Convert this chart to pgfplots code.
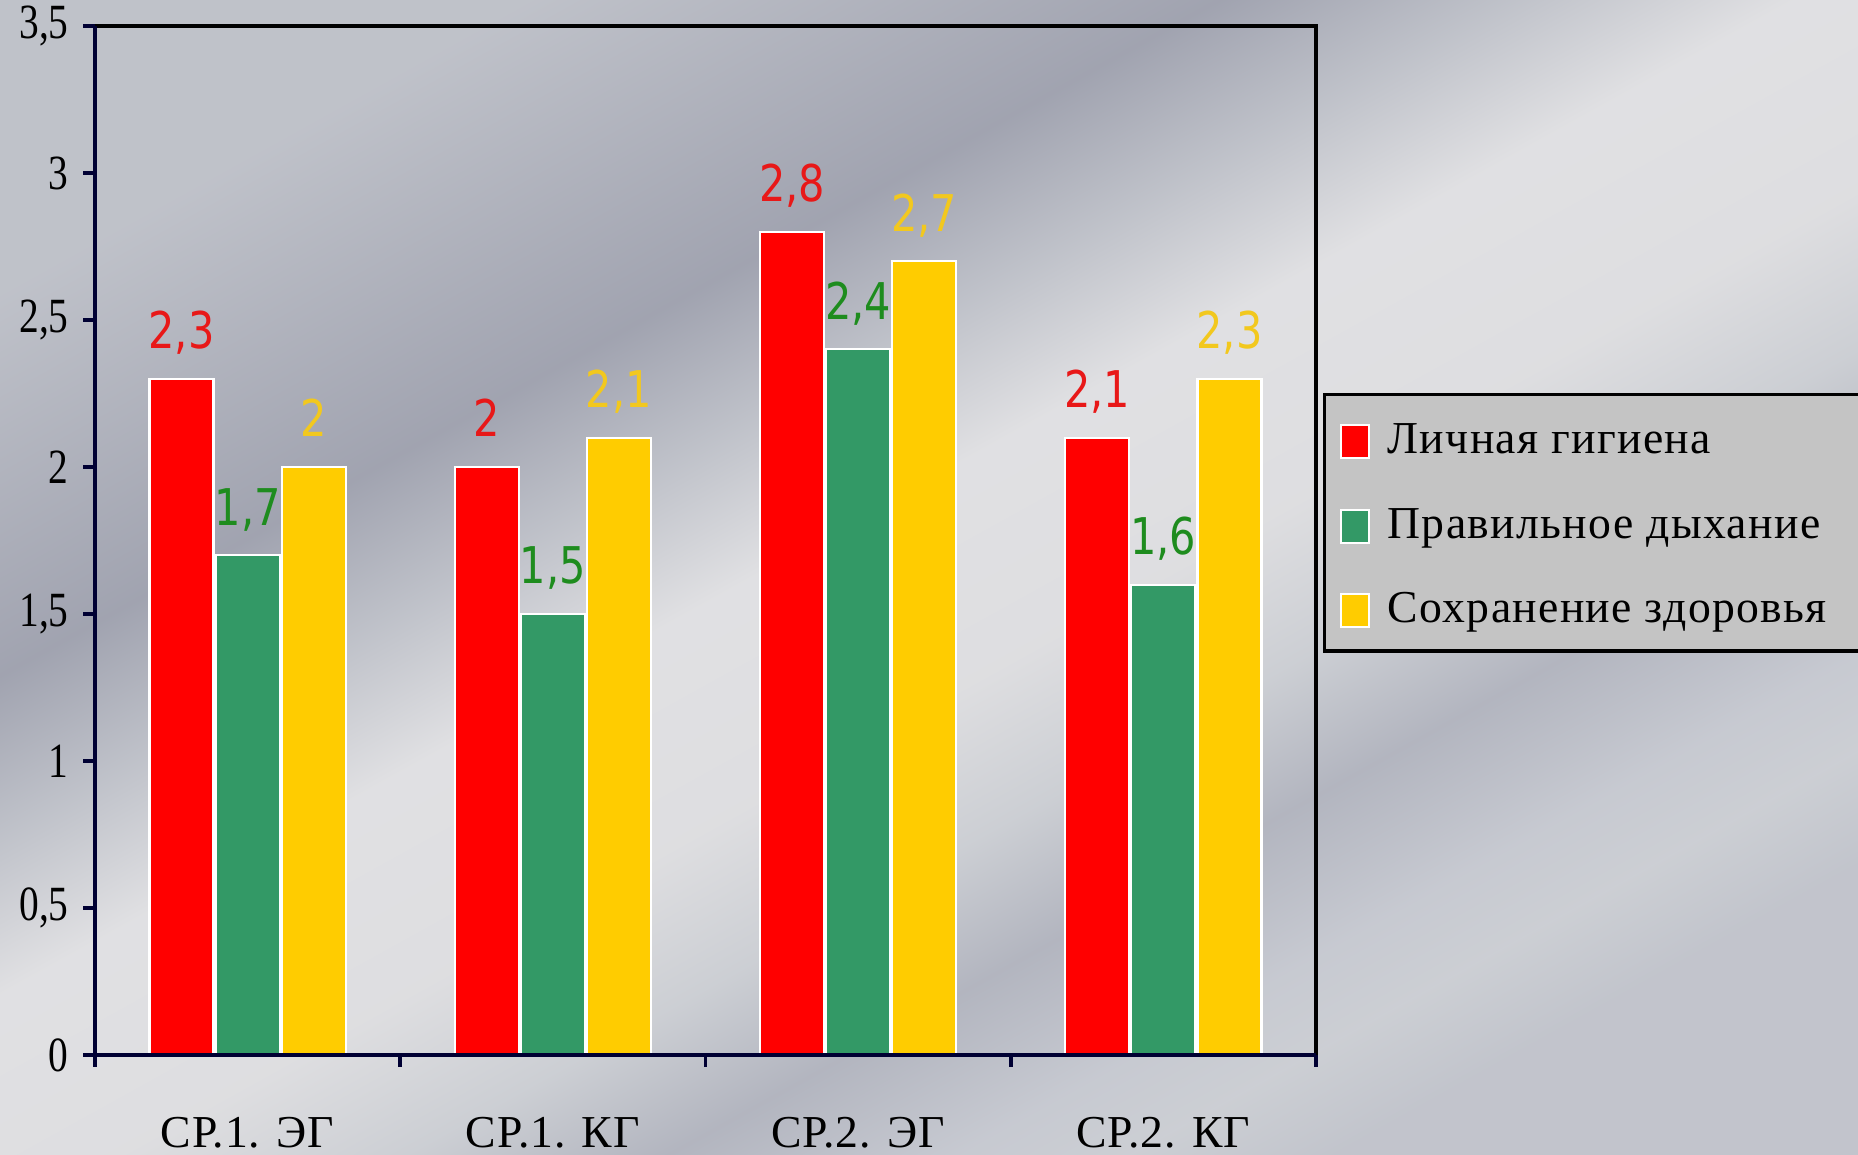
\documentclass[border=0pt]{standalone}
\usepackage{fontspec}
\setmainfont{Liberation Serif}
\newfontfamily\lab[FakeStretch=0.82]{DejaVu Sans}
\newfontfamily\legfont[LetterSpace=3]{Liberation Serif}
\newfontfamily\tickfont[FakeStretch=0.8]{Liberation Serif}
\newfontfamily\catfont[LetterSpace=2]{Liberation Serif}
\usepackage{pgfplots}
\pgfplotsset{compat=1.18}
\definecolor{cred}{HTML}{FF0000}
\definecolor{cgreen}{HTML}{339966}
\definecolor{cyellow}{HTML}{FFCC00}
\definecolor{tred}{HTML}{E81818}
\definecolor{tgreen}{HTML}{1E8C1E}
\definecolor{tyellow}{HTML}{F2C81E}
\definecolor{navy}{HTML}{000033}
\definecolor{lgray}{HTML}{C4C4C4}
\pgfdeclarehorizontalshading{metal}{100bp}{
rgb(0bp)=(0.75,0.76,0.79);
rgb(25bp)=(0.75,0.76,0.79);
rgb(31bp)=(0.69,0.70,0.74);
rgb(37bp)=(0.63,0.64,0.69);
rgb(42bp)=(0.75,0.76,0.79);
rgb(47bp)=(0.88,0.88,0.89);
rgb(54bp)=(0.87,0.87,0.88);
rgb(59bp)=(0.80,0.81,0.83);
rgb(63.5bp)=(0.70,0.71,0.75);
rgb(68.5bp)=(0.78,0.79,0.82);
rgb(71.5bp)=(0.80,0.81,0.83);
rgb(75bp)=(0.76,0.77,0.80);
rgb(100bp)=(0.76,0.77,0.80)}
\begin{document}
\begin{tikzpicture}
\useasboundingbox (0,0) rectangle (18.58,11.55);
\clip (0,0) rectangle (18.58,11.55);
\shade[shading=metal, shading angle=-61] (0,0) rectangle (18.58,11.55);
\begin{axis}[
  at={(0.95cm,1.0cm)}, anchor=south west,
  scale only axis, width=12.21cm, height=10.29cm,
  xmin=-0.5, xmax=3.5, ymin=0, ymax=3.5,
  clip=false,
  ybar=0.6pt, bar width=0.64cm,
  axis line style={draw=none},
  /pgf/number format/use comma,
  /pgf/number format/assume math mode=true,
  tick align=outside,
  xtick pos=bottom, ytick pos=left,
  major tick length=0.12cm,
  xtick={0,1,2,3},
  xticklabels={СР.1. ЭГ, СР.1. КГ, СР.2. ЭГ, СР.2. КГ},
  xtick style={draw=none},
  extra x ticks={-0.5,0.5,1.5,2.5,3.5},
  extra x tick labels={},
  extra x tick style={xtick style={draw=navy, line width=1pt}},
  ytick={0,0.5,1,1.5,2,2.5,3,3.5},
  ytick style={draw=navy, line width=1pt},
  yticklabel style={font=\tickfont\fontsize{14}{16}\selectfont, xshift=-0.02cm},
  xticklabel style={font=\catfont\fontsize{13}{15}\selectfont, yshift=-0.38cm},
  nodes near coords={\pgfmathprintnumber{\pgfplotspointmeta}},
  every node near coord/.append style={font=\lab\fontsize{14.4}{16}\selectfont, anchor=base, yshift=0.3cm},
  legend style={at={(1.0057,0.643)}, anchor=north west, fill=lgray, draw=black, line width=0.9pt,
    font=\legfont\fontsize{13}{15}\selectfont, row sep=0.375cm, column sep=0.18cm,
    inner xsep=0.15cm, inner ysep=0.2cm,
    nodes={inner sep=0pt, text height=0.39cm, text depth=0.08cm}},
  legend cell align=left,
  legend image code/.code={\draw[#1, draw=white, line width=0.6pt] (0cm,-0.2cm) rectangle (0.28cm,0.13cm);},
]
\addplot[fill=cred, draw=white, line width=0.6pt, every node near coord/.append style={text=tred}]
  coordinates {(0,2.3) (1,2.0) (2,2.8) (3,2.1)};
\addplot[fill=cgreen, draw=white, line width=0.6pt, every node near coord/.append style={text=tgreen}]
  coordinates {(0,1.7) (1,1.5) (2,2.4) (3,1.6)};
\addplot[fill=cyellow, draw=white, line width=0.6pt, every node near coord/.append style={text=tyellow}]
  coordinates {(0,2.0) (1,2.1) (2,2.7) (3,2.3)};
\addlegendentry{Личная гигиена}
\addlegendentry{Правильное дыхание}
\addlegendentry{Сохранение здоровья\hspace*{0.4cm}}
\draw[black, line width=0.9pt] (rel axis cs:0,1) -- (rel axis cs:1,1) -- (rel axis cs:1,0);
\draw[navy, line width=1.4pt] (rel axis cs:0,1) -- (rel axis cs:0,0) -- (rel axis cs:1,0);
\end{axis}
\end{tikzpicture}
\end{document}
